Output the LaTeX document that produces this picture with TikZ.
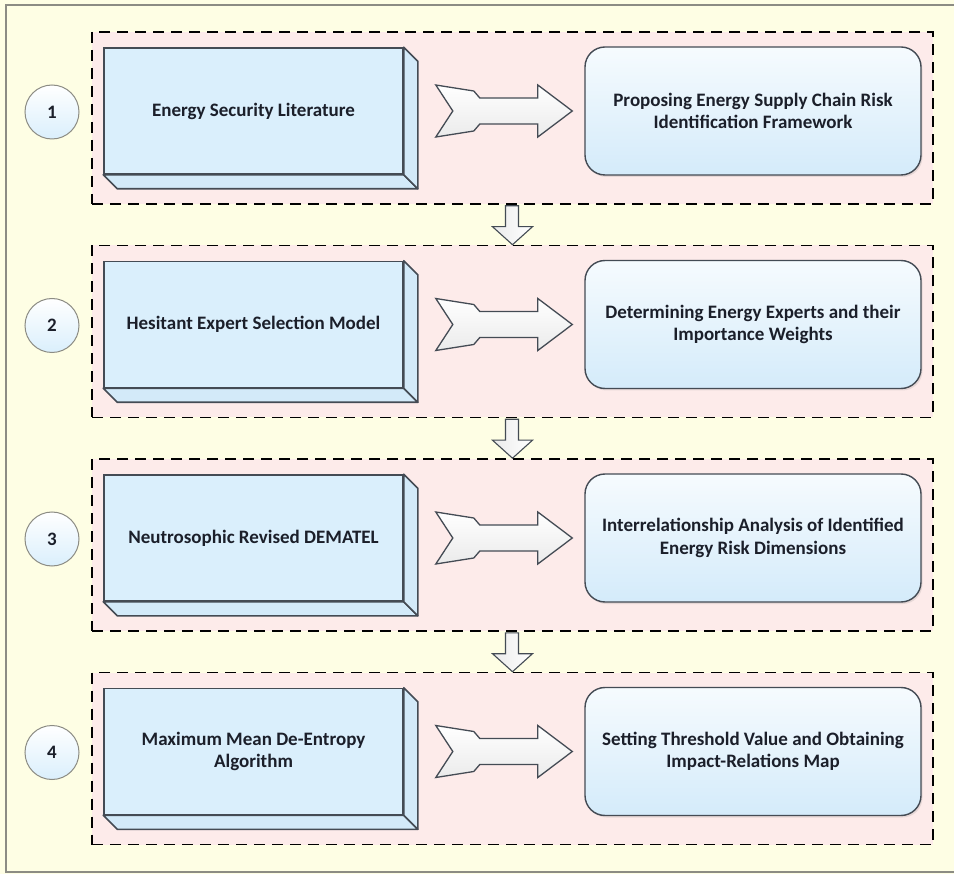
\documentclass[tikz,border=0pt]{standalone}
\usepackage{fontspec}
\setmainfont{Carlito}
\usetikzlibrary{calc,shadows}

\definecolor{bgyellow}{HTML}{FEFEE4}
\definecolor{framegray}{HTML}{8C8C84}
\definecolor{panelpink}{HTML}{FDEBEA}
\definecolor{boxblue}{HTML}{DAEFFC}
\definecolor{sideblue}{HTML}{D3EAF9}
\definecolor{goaltop}{HTML}{F6FBFE}
\definecolor{goalbot}{HTML}{D4EBFA}
\definecolor{edgegray}{HTML}{444B54}
\definecolor{txt}{HTML}{1B1F2A}

\tikzset{
  labelfont/.style={font=\bfseries\fontsize{19}{22.5}\selectfont, text=txt},
  panel/.style={draw=black, line width=1.6pt, dash pattern=on 11pt off 7pt,
    fill=panelpink, minimum width=841pt, minimum height=172pt, inner sep=0pt},
  slab/.style={draw=edgegray, line width=1.6pt, fill=boxblue,
    minimum width=299pt, minimum height=126pt, inner sep=0pt, align=center, labelfont},
  slabside/.style={draw=edgegray, line width=1.6pt, fill=sideblue, line join=round},
  goal/.style={draw=edgegray, line width=1.4pt, rounded corners=20pt,
    top color=goaltop, bottom color=goalbot,
    drop shadow={opacity=0.18, shadow xshift=1.5pt, shadow yshift=-2pt},
    minimum width=336pt, minimum height=128pt, inner sep=0pt, align=center, labelfont},
  badge/.style={circle, draw=framegray, line width=1pt, top color=white,
    bottom color=boxblue, minimum size=54pt, inner sep=0pt, labelfont},
  chevron/.style={draw=edgegray, line width=1.3pt, top color=white,
    bottom color=black!8, line join=miter},
  droparrow/.style={draw=edgegray, line width=1.1pt, left color=black!8,
    right color=white, line join=miter}
}

\begin{document}
\begin{tikzpicture}[x=1pt, y=-1pt]
  \useasboundingbox (0,0) rectangle (954,874);
  % page background and its frame
  \fill[bgyellow] (0,0) rectangle (954,874);
  \draw[framegray, line width=1.2pt] (960,5) -- (6,5) -- (6,872) -- (960,872);

  % the four stages
  \foreach \i/\left/\right/\num in {%
      1/{Energy Security Literature}/{Proposing Energy Supply Chain Risk\\Identification Framework}/1,
      2/{Hesitant Expert Selection Model}/{Determining Energy Experts and their\\Importance Weights}/2,
      3/{Neutrosophic Revised DEMATEL}/{Interrelationship Analysis of Identified\\Energy Risk Dimensions}/3,
      4/{Maximum Mean De-Entropy\\Algorithm}/{Setting Threshold Value and Obtaining\\Impact-Relations Map}/4} {
    \pgfmathsetmacro{\d}{(\i-1)*213.5}
    \node[panel] (p\i) at (512.5, 118+\d) {};
    \node[badge] (b\i) at (52, 112+\d) {\num};
    \node[slab] (s\i) at (253.5, 111+\d) {\left};
    % extruded bottom and right faces of the slab
    \draw[slabside] (s\i.south west) -- ++(14,14) -- ($(s\i.south east)+(14,14)$)
      -- (s\i.south east) -- cycle;
    \draw[slabside] (s\i.north east) -- ++(14,14) -- ($(s\i.south east)+(14,14)$)
      -- (s\i.south east) -- cycle;
    \node[goal] (g\i) at (753, 111+\d) {\right};
    % fletched arrow from the method to its outcome
    \draw[chevron] ($(s\i.east)+(32,-26)$) -- ++(38,6) -- ++(6,7) -- ++(58,0)
      -- ++(0,-13) -- ($(g\i.west)+(-12,0)$) -- ($(s\i.east)+(134,26)$)
      -- ++(0,-13) -- ++(-58,0) -- ++(-6,7) -- ++(-38,6) -- ++(17,-26) -- cycle;
  }

  % hollow arrows linking consecutive stages
  \foreach \a/\b in {1/2, 2/3, 3/4} {
    \draw[droparrow] ($(p\a.south)+(-7,1)$) -- ($(p\a.south)+(6,1)$)
      -- ($(p\b.north)+(6,-18)$) -- ($(p\b.north)+(20,-18)$) -- (p\b.north)
      -- ($(p\b.north)+(-20,-18)$) -- ($(p\b.north)+(-7,-18)$) -- cycle;
  }
\end{tikzpicture}
\end{document}
